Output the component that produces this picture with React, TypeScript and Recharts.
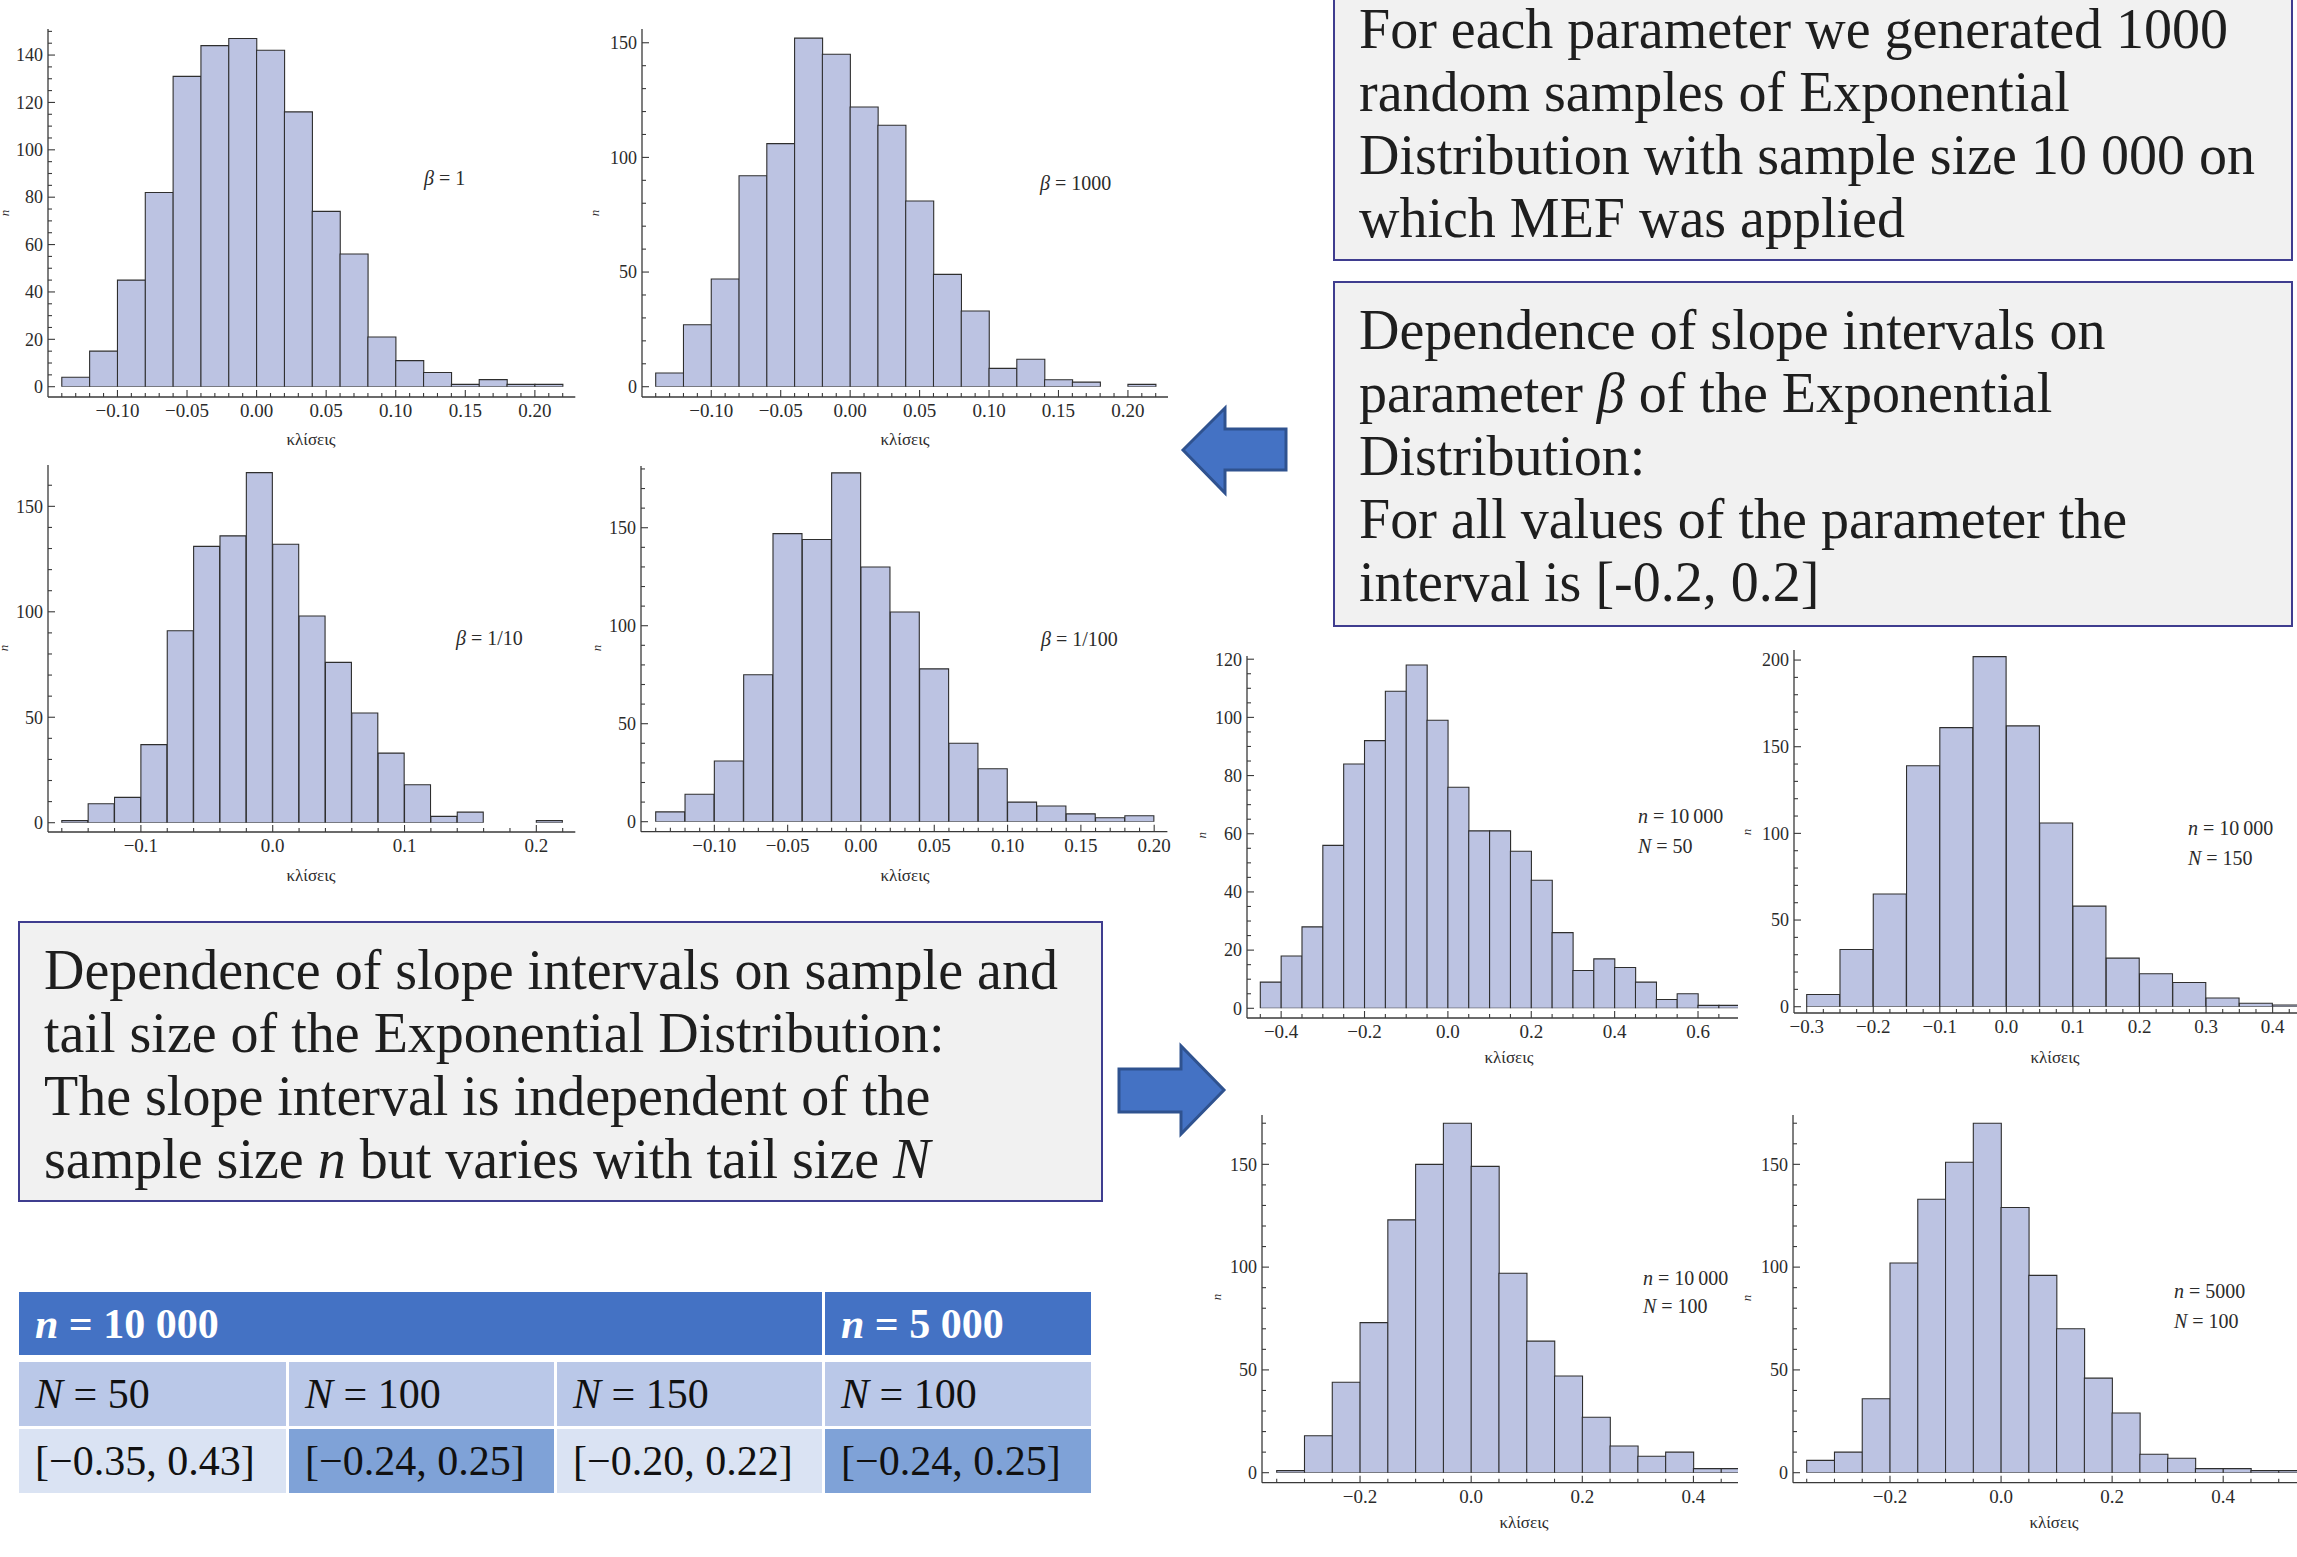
import React from 'react';
import { BarChart, Bar, XAxis, YAxis } from 'recharts';

const PAGE_W = 2297;
const PAGE_H = 1557;
const SERIF = '"Liberation Serif", "Times New Roman", serif';
const AXIS = '#3a3a3a';
const TICK_TXT = '#2b2b2b';
const BAR_FILL = '#bcc3e2';
const BAR_EDGE = '#2e2e2e';

// counts per bin (1000 samples each)
const beta1Counts = [4, 15, 45, 82, 131, 144, 147, 142, 116, 74, 56, 21, 11, 6, 1, 3, 1, 1];
const beta1000Counts = [6, 27, 47, 92, 106, 152, 145, 122, 114, 81, 49, 33, 8, 12, 3, 2, 0, 1];
const betaTenthCounts = [1, 9, 12, 37, 91, 131, 136, 166, 132, 98, 76, 52, 33, 18, 3, 5, 0, 0, 1];
const betaHundredthCounts = [5, 14, 31, 75, 147, 144, 178, 130, 107, 78, 40, 27, 10, 8, 4, 2, 3];
const n10kN50Counts = [9, 18, 28, 56, 84, 92, 109, 118, 99, 76, 61, 61, 54, 44, 26, 13, 17, 14, 9, 3, 5, 1, 1];
const n10kN150Counts = [7, 33, 65, 139, 161, 202, 162, 106, 58, 28, 19, 14, 5, 2, 1];
const n10kN100Counts = [1, 18, 44, 73, 123, 150, 170, 149, 97, 64, 47, 27, 13, 8, 10, 2, 2];
const n5kN100Counts = [6, 10, 36, 102, 133, 151, 170, 129, 96, 70, 46, 29, 9, 7, 2, 2, 1, 1];

// labelled tick values
const xTicksHundredths = [-0.1, -0.05, 0, 0.05, 0.1, 0.15, 0.2];
const xTicksTenthsBeta = [-0.1, 0, 0.1, 0.2];
const xTicksN50 = [-0.4, -0.2, 0, 0.2, 0.4, 0.6];
const xTicksN150 = [-0.3, -0.2, -0.1, 0, 0.1, 0.2, 0.3, 0.4];
const xTicksN100 = [-0.2, 0, 0.2, 0.4];
const yTicksBy20 = [0, 20, 40, 60, 80, 100, 120, 140];
const yTicksBy50 = [0, 50, 100, 150];
const yTicksBy50To200 = [0, 50, 100, 150, 200];

// table
const tableTails = [50, 100, 150, 100];
const tableIntervals = ['[\u22120.35, 0.43]', '[\u22120.24, 0.25]', '[\u22120.20, 0.22]', '[\u22120.24, 0.25]'];

const Y_W = 50;
const X_H = 70;
const M_TOP = 8;
const M_RIGHT = 24;

const steps = (from: number, to: number, step: number) => {
  const out: number[] = [];
  const n = Math.round((to - from) / step);
  for (let i = 0; i <= n; i++) out.push(+(from + i * step).toFixed(6));
  return out;
};
const hasVal = (list: number[], v: number) => list.some((m) => Math.abs(m - v) < 1e-6);
const merge = (a: number[], b: number[]) => {
  const out = [...a];
  b.forEach((v) => { if (!hasVal(out, v)) out.push(v); });
  return out.sort((p, q) => p - q);
};
const fmt = (v: number, d: number) => {
  const s = Math.abs(v).toFixed(d);
  return v < -1e-9 ? '\u2212' + s : s;
};

type HistSpec = {
  counts: number[];
  binStart: number;
  binWidth: number;
  xMajor: number[];
  xMinor: number;
  dec: number;
  yMajor: number[];
  yMinor: number;
  yMax: number;
  axisX: number;
  axisY: number;
  topY: number;
  zeroY: number;
  firstEdge: number;
  lastEdge: number;
  rightX: number;
  clipRight?: number;
  labelCx: number;
  labelCy: number;
  nPos: [number, number];
  noteX: number;
  noteCy: number[];
  notes: React.ReactNode[];
};

const specs: HistSpec[] = [
  {
    counts: beta1Counts, binStart: -0.14, binWidth: 0.02, xMajor: xTicksHundredths, xMinor: 0.01, dec: 2,
    yMajor: yTicksBy20, yMinor: 5, yMax: 151,
    axisX: 48, axisY: 397, topY: 29, zeroY: 386.7, firstEdge: 61.8, lastEdge: 562.7, rightX: 575.3,
    labelCx: 311, labelCy: 440, nPos: [4, 213], noteX: 424, noteCy: [178],
    notes: [<><i>β</i> = 1</>],
  },
  {
    counts: beta1000Counts, binStart: -0.14, binWidth: 0.02, xMajor: xTicksHundredths, xMinor: 0.01, dec: 2,
    yMajor: yTicksBy50, yMinor: 10, yMax: 156,
    axisX: 642, axisY: 397, topY: 29, zeroY: 386.7, firstEdge: 655.7, lastEdge: 1155.7, rightX: 1168,
    labelCx: 905, labelCy: 440, nPos: [594, 213], noteX: 1040, noteCy: [183],
    notes: [<><i>β</i> = 1000</>],
  },
  {
    counts: betaTenthCounts, binStart: -0.16, binWidth: 0.02, xMajor: xTicksTenthsBeta, xMinor: 0.02, dec: 1,
    yMajor: yTicksBy50, yMinor: 10, yMax: 169.6,
    axisX: 48, axisY: 832, topY: 465, zeroY: 822.7, firstEdge: 61.8, lastEdge: 562.7, rightX: 575.3,
    labelCx: 311, labelCy: 876, nPos: [3, 648], noteX: 456, noteCy: [638],
    notes: [<><i>β</i> = 1/10</>],
  },
  {
    counts: betaHundredthCounts, binStart: -0.14, binWidth: 0.02, xMajor: xTicksHundredths, xMinor: 0.01, dec: 2,
    yMajor: yTicksBy50, yMinor: 10, yMax: 181.5,
    axisX: 641, axisY: 831.7, topY: 466, zeroY: 821.7, firstEdge: 655.7, lastEdge: 1154.2, rightX: 1167.4,
    labelCx: 905, labelCy: 876, nPos: [596, 648], noteX: 1041, noteCy: [639],
    notes: [<><i>β</i> = 1/100</>],
  },
  {
    counts: n10kN50Counts, binStart: -0.45, binWidth: 0.05, xMajor: xTicksN50, xMinor: 0.05, dec: 1,
    yMajor: yTicksBy20, yMinor: 5, yMax: 121.1,
    axisX: 1247, axisY: 1017.7, topY: 655.7, zeroY: 1008, firstEdge: 1260.3, lastEdge: 1739.7, rightX: 1740, clipRight: 1738,
    labelCx: 1509, labelCy: 1058, nPos: [1201, 835], noteX: 1638, noteCy: [816, 846],
    notes: [<><i>n</i> = 10{'\u2009'}000</>, <><i>N</i> = 50</>],
  },
  {
    counts: n10kN150Counts, binStart: -0.3, binWidth: 0.05, xMajor: xTicksN150, xMinor: 0.025, dec: 1,
    yMajor: yTicksBy50To200, yMinor: 10, yMax: 205.8,
    axisX: 1794, axisY: 1013, topY: 650, zeroY: 1006.7, firstEdge: 1806.7, lastEdge: 2305.9, rightX: 2306,
    labelCx: 2055, labelCy: 1058, nPos: [1746, 832], noteX: 2188, noteCy: [828, 858],
    notes: [<><i>n</i> = 10{'\u2009'}000</>, <><i>N</i> = 150</>],
  },
  {
    counts: n10kN100Counts, binStart: -0.35, binWidth: 0.05, xMajor: xTicksN100, xMinor: 0.05, dec: 1,
    yMajor: yTicksBy50, yMinor: 10, yMax: 174,
    axisX: 1262, axisY: 1482.7, topY: 1115, zeroY: 1472.7, firstEdge: 1276.7, lastEdge: 1749, rightX: 1749, clipRight: 1738,
    labelCx: 1524, labelCy: 1523, nPos: [1216, 1297], noteX: 1643, noteCy: [1278, 1306],
    notes: [<><i>n</i> = 10{'\u2009'}000</>, <><i>N</i> = 100</>],
  },
  {
    counts: n5kN100Counts, binStart: -0.35, binWidth: 0.05, xMajor: xTicksN100, xMinor: 0.05, dec: 1,
    yMajor: yTicksBy50, yMinor: 10, yMax: 174,
    axisX: 1793, axisY: 1482.7, topY: 1115, zeroY: 1472.7, firstEdge: 1806.7, lastEdge: 2306.5, rightX: 2307,
    labelCx: 2054, labelCy: 1523, nPos: [1746, 1298], noteX: 2174, noteCy: [1291, 1321],
    notes: [<><i>n</i> = 5000</>, <><i>N</i> = 100</>],
  },
];

function Histogram({ s }: { s: HistSpec }) {
  const left = s.axisX - Y_W;
  const top = s.topY - M_TOP;
  const width = s.rightX - left + M_RIGHT;
  const height = s.axisY + X_H - top;
  const clipW = Math.min(width, (s.clipRight ?? PAGE_W) - left);
  const binEnd = +(s.binStart + s.counts.length * s.binWidth).toFixed(6);
  const data = s.counts.map((count, i) => ({
    bin: i,
    center: +(s.binStart + (i + 0.5) * s.binWidth).toFixed(6),
    count,
  }));
  const padL = s.firstEdge - s.axisX;
  const padR = s.rightX - s.lastEdge;
  const padB = s.axisY - s.zeroY;
  const xAll = merge(steps(s.binStart, binEnd, s.xMinor), s.xMajor);
  const yAll = merge(steps(0, Math.floor(s.yMax / s.yMinor) * s.yMinor, s.yMinor), s.yMajor);

  const xTick = (props: any) => {
    const { x, y, payload } = props;
    const v = payload.value as number;
    const maj = hasVal(s.xMajor, v);
    return (
      <g>
        <line x1={x} x2={x} y1={y} y2={y - (maj ? 7 : 4)} stroke={AXIS} strokeWidth={1.1} />
        {maj && (
          <text x={x} y={y + 20} textAnchor="middle" fontFamily={SERIF} fontSize={19} fill={TICK_TXT}>
            {fmt(v, s.dec)}
          </text>
        )}
      </g>
    );
  };
  const yTick = (props: any) => {
    const { x, y, payload } = props;
    const v = payload.value as number;
    const maj = hasVal(s.yMajor, v);
    return (
      <g>
        <line x1={x} x2={x + (maj ? 7 : 4)} y1={y} y2={y} stroke={AXIS} strokeWidth={1.1} />
        {maj && (
          <text x={x - 5} y={y} dy="0.35em" textAnchor="end" fontFamily={SERIF} fontSize={18} fill={TICK_TXT}>
            {v}
          </text>
        )}
      </g>
    );
  };
  const xLabel = () => (
    <text x={s.labelCx - left} y={s.labelCy + 5 - top} textAnchor="middle" fontFamily={SERIF} fontSize={17} fill={TICK_TXT}>
      κλίσεις
    </text>
  );
  const yLabel = () => (
    <text
      transform={`translate(${s.nPos[0] - left},${s.nPos[1] - top}) rotate(-90)`}
      textAnchor="middle"
      dy="0.35em"
      fontFamily={SERIF}
      fontStyle="italic"
      fontSize={13}
      fill={TICK_TXT}
    >
      n
    </text>
  );

  return (
    <div style={{ position: 'absolute', left, top, width: clipW, height, overflow: 'hidden' }}>
      <BarChart
        width={width}
        height={height}
        data={data}
        margin={{ top: M_TOP, right: M_RIGHT, bottom: 0, left: 0 }}
        barCategoryGap={0}
      >
        <XAxis xAxisId="bins" dataKey="bin" type="category" hide height={0} padding={{ left: padL, right: padR }} />
        <XAxis
          xAxisId="num"
          dataKey="center"
          type="number"
          domain={[s.binStart, binEnd]}
          allowDataOverflow
          ticks={xAll}
          interval={0}
          padding={{ left: padL, right: padR }}
          height={X_H}
          tickSize={0}
          tickMargin={0}
          tickLine={false}
          tick={xTick}
          axisLine={{ stroke: AXIS, strokeWidth: 1.3 }}
          label={xLabel}
        />
        <YAxis
          type="number"
          domain={[0, s.yMax]}
          allowDataOverflow
          ticks={yAll}
          interval={0}
          width={Y_W}
          padding={{ top: 0, bottom: padB }}
          tickSize={0}
          tickMargin={0}
          tickLine={false}
          tick={yTick}
          axisLine={{ stroke: AXIS, strokeWidth: 1.3 }}
          label={yLabel}
        />
        <Bar xAxisId="bins" dataKey="count" fill={BAR_FILL} stroke={BAR_EDGE} strokeWidth={1.1} isAnimationActive={false} />
      </BarChart>
    </div>
  );
}

const BOX_FONT = 56;
const BOX_LH = 63;

function TextLines({ x, cys, lines }: { x: number; cys: number[]; lines: React.ReactNode[] }) {
  return (
    <>
      {lines.map((ln, i) => (
        <div
          key={i}
          style={{
            position: 'absolute',
            left: x,
            top: cys[i] - BOX_LH / 2,
            height: BOX_LH,
            lineHeight: `${BOX_LH}px`,
            fontSize: BOX_FONT,
            fontFamily: SERIF,
            color: '#1e1e1e',
            whiteSpace: 'nowrap',
          }}
        >
          {ln}
        </div>
      ))}
    </>
  );
}

const boxStyle = (l: number, t: number, r: number, b: number): React.CSSProperties => ({
  position: 'absolute',
  left: l,
  top: t,
  width: r - l,
  height: b - t,
  boxSizing: 'border-box',
  background: '#f1f1f1',
  border: '2.5px solid #3f3d8f',
});

const cellStyle = (l: number, t: number, r: number, b: number, bg: string, color: string, bold = false): React.CSSProperties => ({
  position: 'absolute',
  left: l,
  top: t,
  width: r - l,
  height: b - t,
  background: bg,
  color,
  fontFamily: SERIF,
  fontSize: 42,
  fontWeight: bold ? 'bold' : 'normal',
  display: 'flex',
  alignItems: 'center',
  paddingLeft: 16,
  boxSizing: 'border-box',
  whiteSpace: 'nowrap',
});

const COLS: [number, number][] = [[19, 286], [289, 554], [557, 822], [825, 1091]];

export default function App() {
  return (
    <div style={{ position: 'relative', width: PAGE_W, height: PAGE_H, overflow: 'hidden', background: '#ffffff' }}>
      <style>{'body{margin:0}'}</style>

      {specs.map((s, i) => (
        <Histogram key={i} s={s} />
      ))}

      {specs.map((s, i) =>
        s.notes.map((nt, j) => (
          <div
            key={`${i}-${j}`}
            style={{
              position: 'absolute',
              left: s.noteX,
              top: s.noteCy[j] - 12,
              lineHeight: '24px',
              fontSize: 20,
              fontFamily: SERIF,
              color: TICK_TXT,
              whiteSpace: 'nowrap',
            }}
          >
            {nt}
          </div>
        ))
      )}

      <div style={boxStyle(1333, -20, 2293, 261)} />
      <TextLines
        x={1359}
        cys={[29, 92, 155, 218]}
        lines={[
          'For each parameter we generated 1000',
          'random samples of Exponential',
          'Distribution with sample size 10 000 on',
          'which MEF was applied',
        ]}
      />

      <div style={boxStyle(1333, 281, 2293, 627)} />
      <TextLines
        x={1359}
        cys={[330, 393, 456, 519, 582]}
        lines={[
          'Dependence of slope intervals on',
          <>parameter <i>β</i> of the Exponential</>,
          'Distribution:',
          'For all values of the parameter the',
          'interval is [-0.2, 0.2]',
        ]}
      />

      <div style={boxStyle(18, 921, 1103, 1202)} />
      <TextLines
        x={44}
        cys={[970, 1033, 1096, 1159]}
        lines={[
          'Dependence of slope intervals on sample and',
          'tail size of the Exponential Distribution:',
          'The slope interval is independent of the',
          <>sample size <i>n</i> but varies with tail size <i>N</i></>,
        ]}
      />

      <svg width={PAGE_W} height={PAGE_H} style={{ position: 'absolute', left: 0, top: 0, pointerEvents: 'none' }}>
        <polygon
          points="1183,450 1225,408 1225,429 1286,429 1286,470 1225,470 1225,493"
          fill="#4472c4"
          stroke="#2f528f"
          strokeWidth={3}
          strokeLinejoin="miter"
        />
        <polygon
          points="1119,1069 1181,1069 1181,1046 1224,1090 1181,1134 1181,1112 1119,1112"
          fill="#4472c4"
          stroke="#2f528f"
          strokeWidth={3}
          strokeLinejoin="miter"
        />
      </svg>

      {/* summary table */}
      <div style={cellStyle(19, 1292, 822, 1355, '#4472c4', '#ffffff', true)}>
        <i>n</i>&nbsp;= 10 000
      </div>
      <div style={cellStyle(825, 1292, 1091, 1355, '#4472c4', '#ffffff', true)}>
        <i>n</i>&nbsp;= 5 000
      </div>
      {tableTails.map((t, i) => (
        <div key={`t${i}`} style={cellStyle(COLS[i][0], 1362, COLS[i][1], 1426, '#bac8e8', '#111111')}>
          <i>N</i>&nbsp;= {t}
        </div>
      ))}
      {tableIntervals.map((t, i) => (
        <div
          key={`v${i}`}
          style={cellStyle(COLS[i][0], 1429, COLS[i][1], 1493, i % 2 === 1 ? '#7fa2d7' : '#dae3f3', '#111111')}
        >
          {t}
        </div>
      ))}
    </div>
  );
}
